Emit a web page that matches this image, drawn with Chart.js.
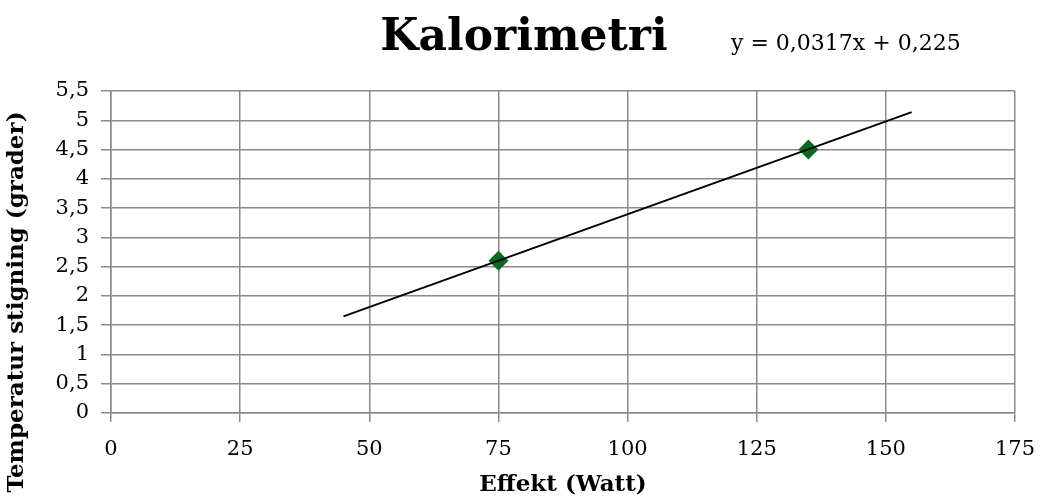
<!DOCTYPE html>
<html>
<head>
<meta charset="utf-8">
<script src="https://cdn.jsdelivr.net/npm/chart.js@4/dist/chart.umd.min.js"></script>
<style>
  html, body { margin: 0; padding: 0; background: #ffffff; }
  #wrap { width: 1040px; height: 503px; position: relative; }
</style>
</head>
<body>
<div id="wrap"><canvas id="c" width="1040" height="503"></canvas></div>
<script>
// ---- data ----
const chartTitle = 'Kalorimetri';
const equationText = 'y = 0,0317x + 0,225';
const xAxisTitle = 'Effekt (Watt)';
const yAxisTitle = 'Temperatur stigning (grader)';

const effekt = [75, 135];          // Watt
const temperatur = [2.6, 4.5];     // grader

const trendX = [45, 155];          // trendline endpoints (x)
const trendY = [1.65, 5.14];       // trendline endpoints (y)

const xMin = 0, xMax = 175, xStep = 25;
const yMin = 0, yMax = 5.5, yStep = 0.5;

const SERIF = '"DejaVu Serif", "Liberation Serif", serif';
const GRID = '#8a8a8a';

const fmt = v => String(Math.round(v * 100) / 100).replace('.', ',');

const textPlugin = {
  id: 'texts',
  afterDraw(chart) {
    const ctx = chart.ctx;
    ctx.save();
    ctx.fillStyle = '#000';
    ctx.textBaseline = 'alphabetic';
    ctx.textAlign = 'center';
    ctx.font = 'bold 44px ' + SERIF;
    ctx.fillText(chartTitle, 524, 50);
    ctx.textAlign = 'left';
    ctx.font = '22px ' + SERIF;
    ctx.fillText(equationText, 731, 50);
    // rotated y-axis title
    ctx.translate(17, 302);
    ctx.rotate(-Math.PI / 2);
    ctx.textAlign = 'center';
    ctx.textBaseline = 'middle';
    ctx.font = 'bold 23px ' + SERIF;
    ctx.fillText(yAxisTitle, 0, 0);
    ctx.restore();
  }
};

new Chart(document.getElementById('c'), {
  type: 'scatter',
  data: {
    datasets: [
      {
        label: 'Trend',
        type: 'line',
        data: trendX.map((x, i) => ({ x: x, y: trendY[i] })),
        borderColor: '#000000',
        borderWidth: 2,
        pointRadius: 0,
        fill: false,
        tension: 0
      },
      {
        label: 'Målinger',
        data: effekt.map((x, i) => ({ x: x, y: temperatur[i] })),
        pointStyle: 'rectRot',
        pointRadius: 10,
        pointHoverRadius: 10,
        backgroundColor: '#0b6a1f',
        borderColor: '#0b6a1f',
        borderWidth: 0
      }
    ]
  },
  options: {
    responsive: false,
    animation: false,
    devicePixelRatio: 1,
    layout: { padding: { top: 91, right: 25, left: 0, bottom: 0 } },
    plugins: {
      legend: { display: false },
      title: { display: false },
      tooltip: { enabled: false }
    },
    scales: {
      x: {
        type: 'linear',
        min: xMin, max: xMax,
        afterFit(s) { s.height = 90; s.paddingLeft = 0; s.paddingRight = 0; },
        ticks: {
          stepSize: xStep,
          color: '#000',
          font: { family: SERIF, size: 21 },
          padding: 15,
          maxRotation: 0,
          callback: v => fmt(v)
        },
        grid: { color: GRID, lineWidth: 1.5, tickLength: 9, tickColor: GRID },
        border: { color: GRID, width: 1.5 },
        title: {
          display: true,
          text: xAxisTitle,
          color: '#000',
          font: { family: SERIF, size: 23, weight: 'bold' },
          padding: { top: 0, bottom: 4 }
        }
      },
      y: {
        type: 'linear',
        min: yMin, max: yMax,
        afterFit(s) { s.width = 111; s.paddingTop = 0; s.paddingBottom = 0; },
        ticks: {
          stepSize: yStep,
          color: '#000',
          font: { family: SERIF, size: 21 },
          padding: 12,
          callback: v => fmt(v)
        },
        grid: { color: GRID, lineWidth: 1.5, tickLength: 10, tickColor: GRID },
        border: { color: GRID, width: 1.5 },
        title: { display: false }
      }
    }
  },
  plugins: [textPlugin]
});
</script>
</body>
</html>
